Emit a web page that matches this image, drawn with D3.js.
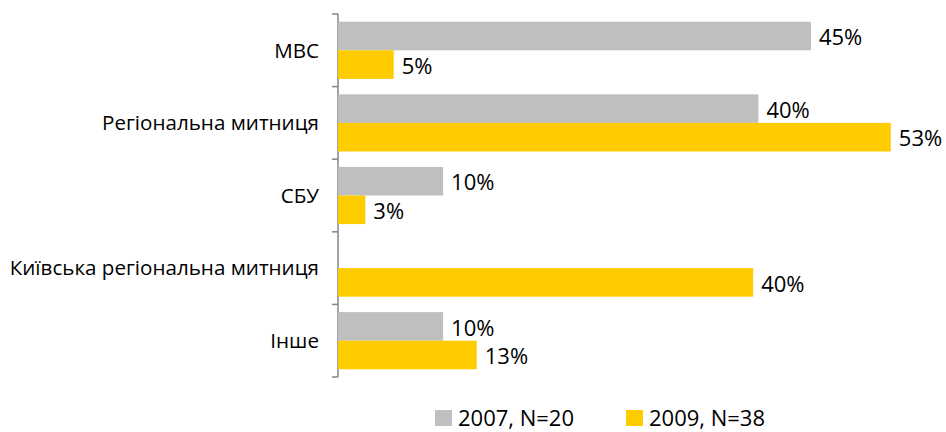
<!DOCTYPE html>
<html lang="uk">
<head>
<meta charset="UTF-8">
<title>Chart</title>
<script src="https://d3js.org/d3.v7.min.js"></script>
<style>
  body { margin: 0; background: #fff; }
  svg { display: block; font-family: "Open Sans", sans-serif; }
  .cat { font-size: 20.6px; fill: #000; }
  .val { font-size: 22px; fill: #000; }
  .leg { font-size: 22px; fill: #000; }
</style>
</head>
<body>
<svg width="946" height="432"></svg>
<script>
const categories = ["МВС", "Регіональна митниця", "СБУ", "Київська регіональна митниця", "Інше"];
const seriesNames = ["2007, N=20", "2009, N=38"];
const seriesColors = ["#BFBFBF", "#FFCC00"];
const values2007 = [45, 40, 10, null, 10];
const values2009 = [5.3, 52.6, 2.6, 39.5, 13.2];

const svg = d3.select("svg");
const plotLeft = 338, plotTop = 14, plotBottom = 377;

const y = d3.scaleBand().domain(categories).range([plotTop, plotBottom]).paddingInner(0).paddingOuter(0);
const x = d3.scaleLinear().domain([0, 60]).range([plotLeft, plotLeft + 630.6]);

const inner = d3.scaleBand().domain([0, 1]).range([0, y.bandwidth()]).paddingOuter(0.27).paddingInner(0);

const axis = svg.append("g")
  .attr("transform", `translate(${plotLeft},0)`)
  .call(d3.axisLeft(y).tickSize(0).tickFormat(""));
axis.select(".domain").remove();
axis.append("line").attr("x1", 0).attr("x2", 0).attr("y1", plotTop).attr("y2", plotBottom)
  .attr("stroke", "#868686").attr("stroke-width", 1.5);
axis.selectAll(".edge").data(d3.range(categories.length + 1)).enter()
  .append("line")
  .attr("x1", -6).attr("x2", 0)
  .attr("y1", i => plotTop + i * y.step()).attr("y2", i => plotTop + i * y.step())
  .attr("stroke", "#868686").attr("stroke-width", 1.5);

svg.selectAll(".cat").data(categories).enter()
  .append("text").attr("class", "cat")
  .attr("x", plotLeft - 19)
  .attr("y", d => y(d) + y.bandwidth() / 2)
  .attr("dy", "0.35em")
  .attr("text-anchor", "end")
  .text(d => d);

const series = [values2007, values2009];
series.forEach((vals, si) => {
  const rows = categories.map((c, i) => ({ c, v: vals[i] })).filter(d => d.v != null);
  svg.selectAll(".bar" + si).data(rows).enter()
    .append("rect")
    .attr("x", x(0))
    .attr("y", d => y(d.c) + inner(si))
    .attr("width", d => x(d.v) - x(0))
    .attr("height", inner.bandwidth())
    .attr("fill", seriesColors[si]);
  svg.selectAll(".val" + si).data(rows).enter()
    .append("text").attr("class", "val")
    .attr("x", d => x(d.v) + 8)
    .attr("y", d => y(d.c) + inner(si) + inner.bandwidth() / 2 + 1.5)
    .attr("dy", "0.35em")
    .text(d => Math.round(d.v) + "%");
});

// legend sits at the bottom edge, as in the source picture
const legX = [435, 626];
const leg = svg.selectAll(".legend").data(seriesNames).enter()
  .append("g").attr("transform", (d, i) => `translate(${legX[i]},410)`);
leg.append("rect").attr("width", 17).attr("height", 16).attr("fill", (d, i) => seriesColors[i]);
leg.append("text").attr("class", "leg").attr("x", 23).attr("y", 16).text(d => d);
</script>
</body>
</html>
